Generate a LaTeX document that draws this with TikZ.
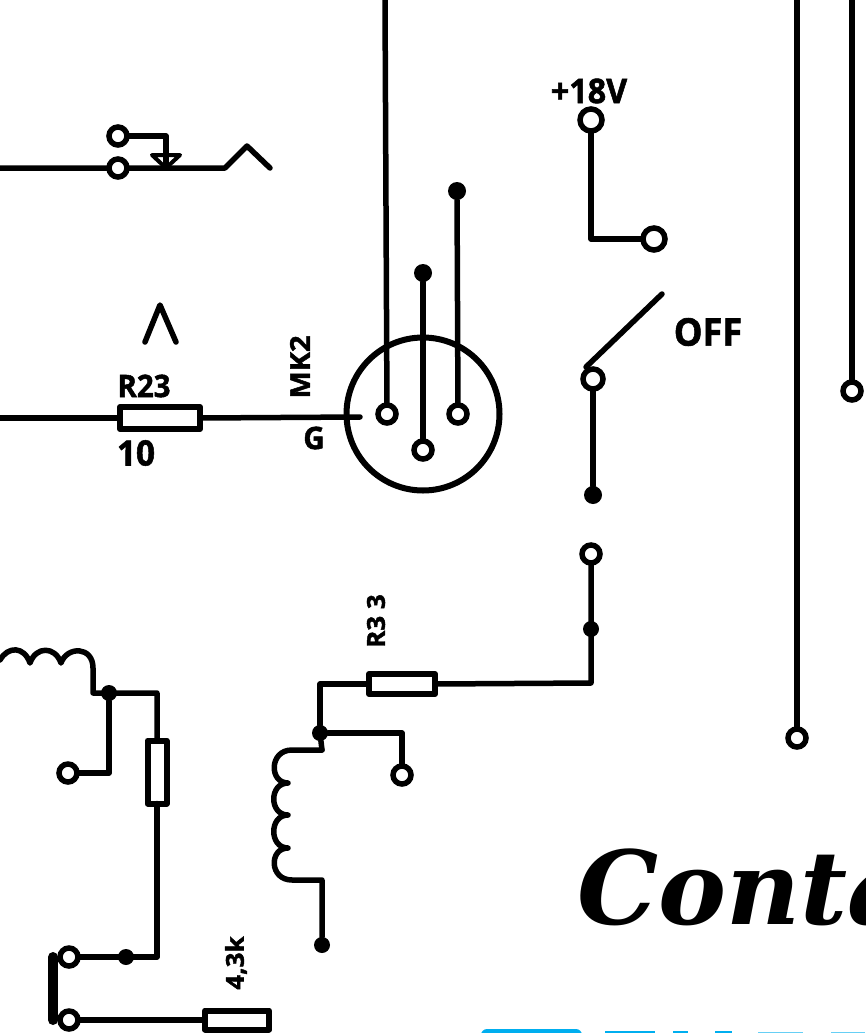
\documentclass[tikz,border=0pt]{standalone}
\usepackage{fontspec}
\setsansfont[BoldFeatures={FakeBold=1.6}]{Open Sans}
\newfontfamily\titlefont{DejaVu Serif}
\usetikzlibrary{positioning}
\definecolor{logoblue}{HTML}{00AEEF}
\definecolor{logopale}{HTML}{66CFF5}
\tikzstyle{wire} = [draw,line width=5.5pt,line join=round,line cap=round]
\tikzstyle{term} = [draw,circle,line width=5.5pt,fill=white,minimum size=18pt,inner sep=0pt,outer sep=0pt]
\tikzstyle{junc} = [circle,fill=black,minimum size=18pt,inner sep=0pt,outer sep=0pt]
\tikzstyle{resbox} = [draw,rectangle,line width=6pt,fill=white,inner sep=0pt,outer sep=0pt,line join=round]
\tikzstyle{lbl} = [inner sep=0pt,font=\sffamily\bfseries\fontsize{31}{31}\selectfont,xscale=.95,transform shape]
\def \capw {102pt}

\begin{document}
\begin{tikzpicture}[x=1pt,y=-1pt]
      \useasboundingbox (0,0) rectangle (865,1033);
      % jack
      \coordinate (jl) at (0,168);
      \coordinate (jk) at (225,168);
      \coordinate (jt) at (247,146);
      \coordinate (je) at (270,168);
      \coordinate (ja) at (166,136);
      \coordinate (jb) at (166,168);
      \draw[wire] (jl) -- (jk) -- (jt) -- (je);
      \draw[wire] (118,136) -- (ja) -- (jb);
      \draw[wire,line width=4pt] (152,155) -- (180,155) -- (166,168) -- cycle;
      \node[term] (j1) at (118,136) {};
      \node[term] (j2) at (118,168) {};
      % mic socket
      \node[draw,circle,line width=6pt,minimum size=153pt,inner sep=0pt,outer sep=0pt] (mk) at (423,414) {};
      \coordinate (top1) at (385,0);
      \coordinate (in) at (360,417);
      \coordinate (wl) at (0,418);
      \coordinate (c1) at (145,342);
      \coordinate (c2) at (160,305);
      \coordinate (c3) at (176,342);
      \node[resbox,minimum width=80pt,minimum height=22pt] (r23) at (160,418) {};
      \node[term] (p1) at (387,414) {};
      \node[term] (p2) at (458,414) {};
      \node[term] (p3) at (423,450) {};
      \node[junc] (d1) at (457,191) {};
      \node[junc] (d2) at (423,273) {};
      \draw[wire] (wl) -- (r23.west);
      \draw[wire] (r23.east) -- (in);
      \draw[wire] (top1) -- (p1);
      \draw[wire] (d1) -- (p2);
      \draw[wire] (d2) -- (p3);
      \draw[wire] (c1) -- (c2) -- (c3);
      \node[lbl] (lr) at (144,386) {R23};
      \node[lbl,font=\sffamily\bfseries\fontsize{35}{35}\selectfont] (lv) at (136,453) {10};
      \node[lbl,rotate=90,font=\sffamily\bfseries\fontsize{29}{29}\selectfont] (lm) at (300,367) {MK2};
      \node[lbl] (lg) at (314,438) {G};
      % switch
      \node[term,minimum size=22pt] (s1) at (591,120) {};
      \node[term,minimum size=22pt] (s2) at (654,239) {};
      \node[term,minimum size=20pt] (s3) at (593,379) {};
      \node[junc] (s4) at (593,495) {};
      \node[term] (s5) at (591,554) {};
      \node[junc,minimum size=16pt] (s6) at (591,629) {};
      \coordinate (st) at (662,294);
      \coordinate (sb) at (586,367);
      \draw[wire] (s1) |- (s2);
      \draw[wire] (st) -- (sb);
      \draw[wire] (s3) -- (s4);
      \node[lbl,font=\sffamily\bfseries\fontsize{34}{34}\selectfont] (l18) at (589,91) {+18V};
      \node[lbl,font=\sffamily\bfseries\fontsize{38}{38}\selectfont] (loff) at (708,332) {OFF};
      % middle coil
      \node[resbox,minimum width=66pt,minimum height=20pt] (r33) at (402,684) {};
      \node[junc,minimum size=16pt] (m1) at (320,733) {};
      \node[term] (m2) at (402,775) {};
      \node[junc,minimum size=16pt] (m3) at (322,945) {};
      \coordinate (ca) at (322,750);
      \coordinate (cb) at (322,880);
      \draw[wire] (s5) -- (591,683) -- (r33.east);
      \draw[wire] (r33.west) -| (m1);
      \draw[wire] (m1) -- (ca);
      \draw[wire] (m1) -| (m2);
      \draw[wire] (ca) -- (292,750) .. controls (269,750) and (269,783) .. (288,783)
        .. controls (269,783) and (269,815) .. (288,815)
        .. controls (269,815) and (269,848) .. (288,848)
        .. controls (269,848) and (269,880) .. (292,880) -- (cb) -- (m3);
      \node[lbl,rotate=90,font=\sffamily\bfseries\fontsize{26}{26}\selectfont] (l33) at (376,621) {R3 3};
      % left coil
      \node[resbox,minimum width=19pt,minimum height=63pt] (r1) at (157,772) {};
      \node[resbox,minimum width=64pt,minimum height=19pt] (r2) at (237,1020) {};
      \node[junc,minimum size=16pt] (n1) at (109,693) {};
      \node[junc,minimum size=16pt] (n2) at (126,957) {};
      \node[term] (n3) at (68,773) {};
      \coordinate (nc) at (93,693);
      \coordinate (nd) at (157,693);
      \coordinate (ne) at (157,957);
      \draw[wire] (0,660) .. controls (8,646) and (24,646) .. (30,663)
        .. controls (36,646) and (55,646) .. (61,663)
        .. controls (67,646) and (93,646) .. (93,668) -- (nc) -- (nd) -- (r1.north);
      \draw[wire] (n1) |- (n3);
      \draw[wire] (r1.south) -- (ne) -- (69,957);
      \draw[wire] (69,1020) -- (r2.west);
      \draw[wire,line width=10pt] (53,957) -- (53,1020);
      \node[term] (n4) at (69,957) {};
      \node[term] (n5) at (69,1020) {};
      \node[lbl,rotate=90,font=\sffamily\bfseries\fontsize{26}{26}\selectfont] (l43) at (236,963) {4,3k};
      % right side
      \coordinate (t1) at (797,0);
      \coordinate (t2) at (852,0);
      \node[term] (q1) at (797,738) {};
      \node[term] (q2) at (852,391) {};
      \draw[wire] (t1) -- (q1);
      \draw[wire] (t2) -- (q2);
      % title and logo
      \node[anchor=base west,inner sep=0pt,font=\titlefont\bfseries\itshape\fontsize{\capw}{\capw}\selectfont] (title) at (577,924) {Conta};
      \fill[logoblue,rounded corners=6pt] (481,1029) rectangle (582,1045);
      \fill[logoblue] (605,1031) rectangle (655,1040);
      \fill[logoblue] (673,1031) rectangle (688,1040);
      \fill[logoblue] (715,1031) rectangle (732,1040);
      \fill[logopale] (758,1032) rectangle (803,1040);
      \fill[logopale] (831,1032) rectangle (865,1040);
    \end{tikzpicture}
\end{document}
